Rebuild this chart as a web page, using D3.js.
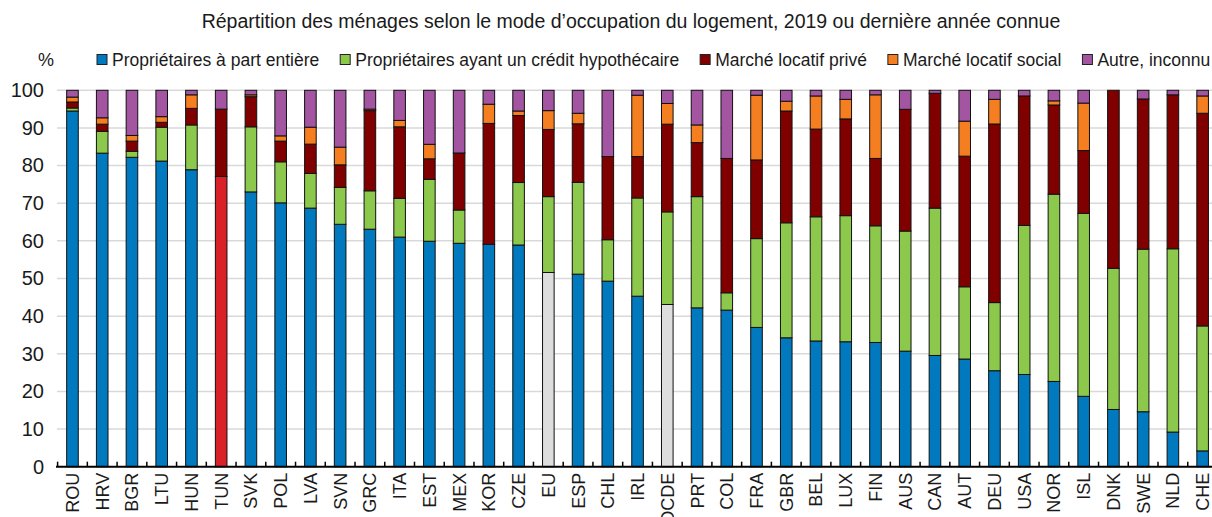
<!DOCTYPE html>
<html>
<head>
<meta charset="utf-8">
<script src="https://cdn.jsdelivr.net/npm/d3@7"></script>
<style>
  body { margin: 0; background: #fff; }
  svg { display: block; font-family: "Liberation Sans", Arial, sans-serif; }
</style>
</head>
<body>
<div id="chart"></div>
<script>
// data, % of households
var countries = ["ROU","HRV","BGR","LTU","HUN","TUN","SVK","POL","LVA","SVN","GRC","ITA","EST","MEX","KOR","CZE","EU","ESP","CHL","IRL","OCDE","PRT","COL","FRA","GBR","BEL","LUX","FIN","AUS","CAN","AUT","DEU","USA","NOR","ISL","DNK","SWE","NLD","CHE"];
var owned    = [94.5,83.3,82.2,81.2,78.9,77.1,73.0,70.1,68.7,64.4,63.1,61.0,59.9,59.35,59.1,58.9,51.6,51.15,49.3,45.3,43.1,42.2,41.6,37.0,34.25,33.4,33.2,33.0,30.7,29.55,28.6,25.5,24.5,22.65,18.7,15.2,14.6,9.2,4.2];
var mortgage = [0.8,5.8,1.6,9.0,11.9,0,17.3,10.9,9.2,9.8,10.2,10.3,16.45,8.85,0,16.6,20.15,24.4,11.0,26.1,24.6,29.55,4.6,23.6,30.55,33.0,33.5,31.0,31.9,39.15,19.2,18.1,39.6,49.75,48.6,37.5,43.2,48.7,33.2];
var privRent = [1.6,1.9,2.7,1.3,4.4,17.9,8.0,5.5,7.8,6.0,21.3,19.0,5.45,15.15,32.1,17.8,17.85,15.55,22.1,11.0,23.3,14.35,35.7,20.9,29.7,23.3,25.7,17.9,32.35,30.5,34.7,47.45,34.4,23.7,16.7,47.3,39.9,40.9,56.5];
var socRent  = [1.3,1.7,1.5,1.5,3.6,0,0.5,1.4,4.5,4.7,0.4,1.7,3.85,0,5.1,1.2,5.0,2.8,0,16.3,5.5,4.7,0,17.2,2.6,8.8,5.2,16.9,0,0,9.3,6.55,0,1.1,12.6,0,0,0,4.6];
var other    = [1.8,7.3,12.0,7.0,1.2,5.0,1.2,12.1,9.8,15.1,5.0,8.0,14.35,16.65,3.7,5.5,5.4,6.1,17.6,1.3,3.5,9.2,18.1,1.3,2.9,1.5,2.4,1.2,5.05,0.8,8.2,2.4,1.5,2.8,3.4,0,2.3,1.2,1.5];
var seriesNames = ["Propriétaires à part entière","Propriétaires ayant un crédit hypothécaire","Marché locatif privé","Marché locatif social","Autre, inconnu"];
var yTicks = [0,10,20,30,40,50,60,70,80,90,100];

var colors = ["#0079BF","#8CC84B","#800000","#F47E20","#A355A1"];
var highlight = {TUN: "#DA2128", EU: "#DDDDDD", OCDE: "#DDDDDD"};

var w = 1212, h = 517;
var svg = d3.select("#chart").append("svg").attr("width", w).attr("height", h);

var x = d3.scaleBand().domain(countries).range([57.6, 1217.5]).paddingInner(0.61).paddingOuter(0.305);
var y = d3.scaleLinear().domain([0, 100]).range([466.7, 90.3]);

var rows = countries.map(function(c, i){
  return {c: c, s0: owned[i], s1: mortgage[i], s2: privRent[i], s3: socRent[i], s4: other[i]};
});
var stack = d3.stack().keys(["s0","s1","s2","s3","s4"])(rows);

// title
svg.append("text").attr("x", 631).attr("y", 28).attr("text-anchor", "middle")
  .attr("font-size", 19.5).attr("fill", "#1a1a1a")
  .text("Répartition des ménages selon le mode d’occupation du logement, 2019 ou dernière année connue");

// legend
svg.append("text").attr("x", 38).attr("y", 66).attr("font-size", 18).attr("fill", "#1a1a1a").text("%");
var lx = 97;
seriesNames.forEach(function(name, i){
  svg.append("rect").attr("x", lx).attr("y", 54.5).attr("width", 10).attr("height", 10)
    .attr("fill", colors[i]).attr("stroke", "#222").attr("stroke-width", 1);
  var t = svg.append("text").attr("x", lx + 15).attr("y", 66).attr("font-size", 17.5).attr("fill", "#1a1a1a").text(name);
  lx += 15 + t.node().getComputedTextLength() + 21;
});

// gridlines
svg.append("g").selectAll("line").data(yTicks.filter(function(d){ return d > 0; })).enter().append("line")
  .attr("x1", 57).attr("x2", w).attr("y1", function(d){ return y(d); }).attr("y2", function(d){ return y(d); })
  .attr("stroke", "#d9d9d9").attr("stroke-width", 1.5);

// y axis labels
var yAxis = d3.axisLeft(y).tickValues(yTicks).tickSize(0).tickPadding(0);
var gy = svg.append("g").attr("transform", "translate(44,0)").call(yAxis);
gy.select(".domain").remove();
gy.selectAll("text").attr("font-size", 20).attr("font-family", "Liberation Sans, Arial, sans-serif").attr("fill", "#1a1a1a");

// bars
stack.forEach(function(layer, k){
  svg.append("g").selectAll("rect").data(layer.filter(function(d){ return d[1] - d[0] > 0; })).enter().append("rect")
    .attr("x", function(d){ return x(d.data.c); })
    .attr("width", x.bandwidth())
    .attr("y", function(d){ return y(d[1]); })
    .attr("height", function(d){ return y(d[0]) - y(d[1]); })
    .attr("fill", function(d){ return (k === 0 && highlight[d.data.c]) ? highlight[d.data.c] : colors[k]; })
    .attr("stroke", "#111").attr("stroke-width", 1);
});

// x axis: line, ticks between categories, rotated labels
var gx = svg.append("g");
gx.append("line").attr("x1", 56).attr("x2", w).attr("y1", y(0)).attr("y2", y(0)).attr("stroke", "#000").attr("stroke-width", 2);
gx.selectAll(".tk").data(d3.range(countries.length + 1)).enter().append("line")
  .attr("x1", function(i){ return x.range()[0] + i * x.step(); })
  .attr("x2", function(i){ return x.range()[0] + i * x.step(); })
  .attr("y1", y(0) - 5).attr("y2", y(0)).attr("stroke", "#000").attr("stroke-width", 1.5);
gx.selectAll(".lb").data(countries).enter().append("text")
  .attr("transform", function(d){ return "translate(" + (x(d) + x.bandwidth() / 2 + 6.5) + "," + (y(0) + 6) + ") rotate(-90)"; })
  .attr("text-anchor", "end").attr("font-size", 18).attr("fill", "#1a1a1a")
  .text(function(d){ return d; });
</script>
</body>
</html>
